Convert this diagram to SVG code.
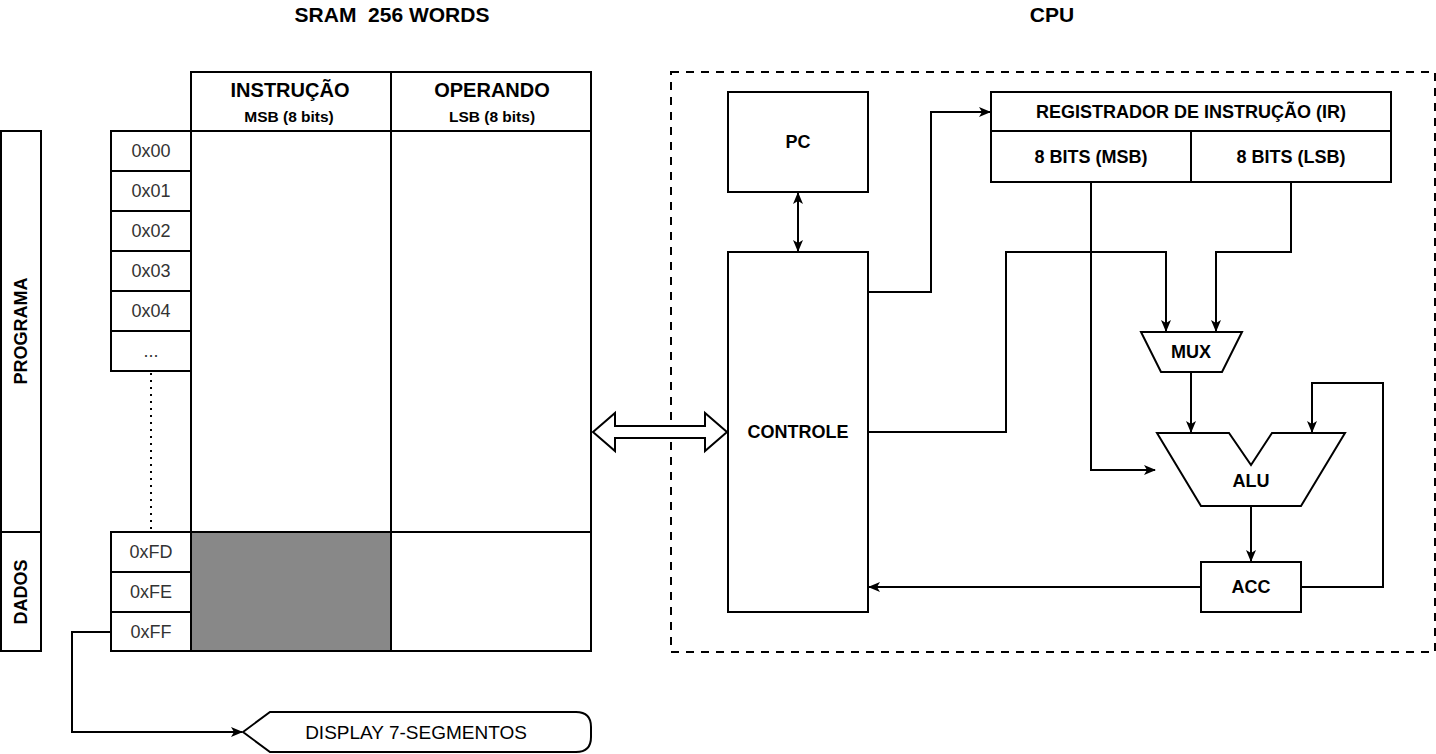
<svg xmlns="http://www.w3.org/2000/svg" width="1436" height="754" viewBox="0 0 1436 754">
<style>
text{font-family:"Liberation Sans",Arial,sans-serif;fill:#000;text-anchor:middle;dominant-baseline:central}
.b{font-weight:bold}
.box{fill:#fff;stroke:#000;stroke-width:2}
.ln{fill:none;stroke:#000;stroke-width:2}
.addr{font-size:18px;fill:#333}
.lbl{font-size:18px;font-weight:bold}
</style>
<defs>
<marker id="ah" markerWidth="12" markerHeight="12" refX="11" refY="6" orient="auto" markerUnits="userSpaceOnUse">
<path d="M0,1 L12,6 L0,11 L3,6 Z" fill="#000"/>
</marker>
<marker id="ahs" markerWidth="12" markerHeight="12" refX="11" refY="6" orient="auto-start-reverse" markerUnits="userSpaceOnUse">
<path d="M0,1 L12,6 L0,11 L3,6 Z" fill="#000"/>
</marker>
</defs>
<rect width="1436" height="754" fill="#fff"/>
<text class="b" x="392" y="14" font-size="21" xml:space="preserve">SRAM  256 WORDS</text>
<text class="b" x="1052" y="14" font-size="21">CPU</text>

<g id="labels-left">
<rect class="box" x="1" y="131" width="40" height="401"/>
<text class="lbl" transform="translate(21,331) rotate(-90)">PROGRAMA</text>
<rect class="box" x="1" y="532" width="40" height="119"/>
<text class="lbl" transform="translate(21,592) rotate(-90)">DADOS</text>
</g>

<g id="sram">
<rect class="box" x="191" y="72" width="200" height="59"/>
<rect class="box" x="391" y="72" width="200" height="59"/>
<text class="b" x="290" y="90" font-size="20">INSTRUÇÃO</text>
<text class="b" x="289" y="116" font-size="15.5">MSB (8 bits)</text>
<text class="b" x="492" y="90" font-size="20">OPERANDO</text>
<text class="b" x="492" y="116" font-size="15.5">LSB (8 bits)</text>
<rect class="box" x="191" y="131" width="200" height="401"/>
<rect class="box" x="391" y="131" width="200" height="401"/>
<rect x="191" y="532" width="200" height="119" fill="#888" stroke="#000" stroke-width="2"/>
<rect class="box" x="391" y="532" width="200" height="119"/>
</g>

<g id="addresses">
<rect class="box" x="111" y="131" width="80" height="40"/><text class="addr" x="151" y="151">0x00</text>
<rect class="box" x="111" y="171" width="80" height="40"/><text class="addr" x="151" y="191">0x01</text>
<rect class="box" x="111" y="211" width="80" height="40"/><text class="addr" x="151" y="231">0x02</text>
<rect class="box" x="111" y="251" width="80" height="40"/><text class="addr" x="151" y="271">0x03</text>
<rect class="box" x="111" y="291" width="80" height="40"/><text class="addr" x="151" y="311">0x04</text>
<rect class="box" x="111" y="331" width="80" height="40"/><text class="addr" x="151" y="351">...</text>
<rect class="box" x="111" y="532" width="80" height="40"/><text class="addr" x="151" y="552">0xFD</text>
<rect class="box" x="111" y="572" width="80" height="40"/><text class="addr" x="151" y="592">0xFE</text>
<rect class="box" x="111" y="612" width="80" height="39"/><text class="addr" x="151" y="632">0xFF</text>
</g>

<g id="display">
<path class="box" d="M243,732 L270,712 L576,712 Q591,712 591,727 L591,737 Q591,752 576,752 L270,752 Z"/>
<text x="416" y="732" font-size="19" fill="#222">DISPLAY 7-SEGMENTOS</text>
</g>

<g id="cpu-frame">
<rect x="671" y="72" width="764" height="580" fill="none" stroke="#000" stroke-width="2" stroke-dasharray="8 7"/>
</g>

<g id="pc">
<rect class="box" x="728" y="92" width="140" height="100"/>
<text class="lbl" x="798" y="142">PC</text>
</g>
<g id="controle">
<rect class="box" x="728" y="252" width="140" height="360"/>
<text class="lbl" x="798" y="432">CONTROLE</text>
</g>
<g id="ir">
<rect class="box" x="991" y="92" width="400" height="39"/>
<rect class="box" x="991" y="131" width="200" height="51"/>
<rect class="box" x="1191" y="131" width="200" height="51"/>
<text class="lbl" x="1191" y="112">REGISTRADOR DE INSTRUÇÃO (IR)</text>
<text class="lbl" x="1091" y="157">8 BITS (MSB)</text>
<text class="lbl" x="1291" y="157">8 BITS (LSB)</text>
</g>
<g id="mux">
<path class="box" d="M1141,332 L1242,332 L1222,372 L1161,372 Z"/>
<text class="lbl" x="1191" y="352">MUX</text>
</g>
<g id="alu">
<path class="box" d="M1157,433 L1229,433 L1251,465 L1272,433 L1345,433 L1301,506 L1201,506 Z"/>
<text class="lbl" x="1251" y="481">ALU</text>
</g>
<g id="acc">
<rect class="box" x="1201" y="562" width="100" height="50"/>
<text class="lbl" x="1251" y="587">ACC</text>
</g>

<g id="connectors">
<path class="ln" d="M111,632 L72,632 L72,732 L242,732" marker-end="url(#ah)"/>
<path d="M593,432 L615,413 L615,426 L705,426 L705,413 L727,432 L705,451 L705,438 L615,438 L615,451 Z" fill="#fff" stroke="#000" stroke-width="2"/>
<path class="ln" d="M798,193 L798,251" marker-start="url(#ahs)" marker-end="url(#ahs)"/>
<path class="ln" d="M868,292 L931,292 L931,112 L990,112" marker-end="url(#ah)"/>
<path class="ln" d="M868,432 L1006,432 L1006,252 L1166,252 L1166,331" marker-end="url(#ah)"/>
<path class="ln" d="M1291,182 L1291,252 L1216,252 L1216,331" marker-end="url(#ah)"/>
<path class="ln" d="M1091,182 L1091,470 L1155,470" marker-end="url(#ah)"/>
<path class="ln" d="M1191,372 L1191,432" marker-end="url(#ah)"/>
<path class="ln" d="M1251,506 L1251,561" marker-end="url(#ah)"/>
<path class="ln" d="M1301,587 L1383,587 L1383,383 L1312,383 L1312,432" marker-end="url(#ah)"/>
<path class="ln" d="M1201,587 L869,587" marker-end="url(#ah)"/>
<path d="M151,373 L151,532" stroke="#000" stroke-width="2" stroke-dasharray="2 5" fill="none"/>
</g>
</svg>
